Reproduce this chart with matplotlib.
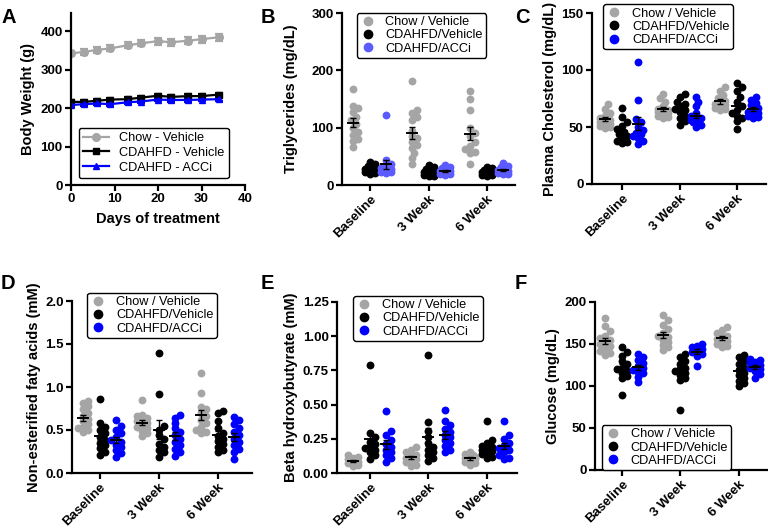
import numpy as np
import matplotlib
matplotlib.use('Agg')
import matplotlib.pyplot as plt
from matplotlib.lines import Line2D

plt.rcParams['font.family'] = ['Liberation Sans', 'DejaVu Sans']

# ---------------- data ----------------
# A: body weight over time (mean, sem)
days = [0, 3, 6, 9, 13, 16, 20, 23, 27, 30, 34]
bw_chow = [342, 346, 351, 355, 363, 368, 374, 371, 375, 379, 384]
bw_chow_sem = [7, 7, 8, 8, 8, 8, 9, 9, 9, 9, 9]
bw_veh = [216, 216, 219, 222, 223, 227, 232, 229, 231, 231, 235]
bw_veh_sem = [5, 5, 5, 5, 5, 5, 5, 5, 5, 5, 5]
bw_acc = [208, 210, 212, 210, 215, 217, 222, 221, 221, 222, 223]
bw_acc_sem = [4, 4, 4, 4, 4, 4, 4, 4, 4, 4, 4]

timepoints = ['Baseline', '3 Week', '6 Week']

# B: triglycerides (mg/dL), one list per timepoint
tg_chow = [[167, 138, 134, 128, 119, 113, 107, 99, 93, 87, 81, 76, 67],
           [182, 130, 126, 118, 113, 95, 85, 82, 75, 70, 64, 55, 47, 37],
           [164, 150, 130, 100, 90, 85, 75, 68, 62, 58, 55, 36]]
tg_veh = [[40, 36, 33, 30, 28, 27, 25, 24, 23, 22, 21, 20],
          [35, 32, 28, 25, 23, 22, 20, 19, 18, 17, 16, 15],
          [32, 29, 27, 25, 23, 22, 21, 20, 19, 18, 17, 16]]
tg_acc = [[122, 44, 36, 32, 30, 28, 26, 25, 24, 23, 22, 21],
          [35, 32, 29, 27, 25, 24, 23, 22, 21, 20, 19, 18],
          [38, 34, 31, 28, 26, 25, 24, 23, 22, 21, 20, 19]]

# C: plasma cholesterol (mg/dL)
ch_chow = [[70, 66, 62, 60, 58, 56, 55, 54, 53, 52, 51, 50, 49],
           [79, 75, 72, 68, 66, 65, 64, 63, 62, 61, 60, 59, 58],
           [85, 82, 78, 75, 73, 71, 70, 69, 68, 67, 66, 65]]
ch_veh = [[67, 59, 54, 51, 48, 46, 44, 42, 40, 38, 37, 36],
          [79, 76, 72, 70, 68, 66, 65, 63, 60, 58, 55, 52],
          [89, 85, 82, 76, 72, 68, 65, 62, 60, 58, 55, 48]]
ch_acc = [[107, 74, 57, 54, 50, 47, 45, 44, 42, 40, 38, 35],
          [76, 72, 68, 62, 60, 58, 57, 56, 55, 54, 52, 50],
          [76, 74, 71, 69, 67, 65, 63, 62, 61, 60, 59, 58]]

# D: non-esterified fatty acids (mM)
nefa_chow = [[0.84, 0.81, 0.78, 0.74, 0.70, 0.66, 0.63, 0.60, 0.57, 0.54, 0.52, 0.50, 0.48],
             [0.85, 0.68, 0.66, 0.64, 0.62, 0.60, 0.58, 0.56, 0.54, 0.52, 0.49, 0.46, 0.43],
             [1.16, 0.93, 0.77, 0.74, 0.70, 0.66, 0.62, 0.58, 0.54, 0.50, 0.48, 0.46]]
nefa_veh = [[0.86, 0.58, 0.54, 0.50, 0.46, 0.42, 0.38, 0.35, 0.32, 0.29, 0.25, 0.21],
            [1.40, 0.92, 0.55, 0.50, 0.44, 0.39, 0.34, 0.30, 0.27, 0.24, 0.19],
            [0.72, 0.70, 0.60, 0.52, 0.46, 0.43, 0.40, 0.37, 0.34, 0.30, 0.27, 0.24]]
nefa_acc = [[0.62, 0.55, 0.50, 0.46, 0.42, 0.38, 0.36, 0.33, 0.30, 0.27, 0.23, 0.19],
            [0.68, 0.64, 0.58, 0.52, 0.48, 0.44, 0.40, 0.36, 0.32, 0.28, 0.24, 0.20],
            [0.65, 0.62, 0.57, 0.52, 0.48, 0.44, 0.40, 0.36, 0.32, 0.28, 0.24, 0.16]]

# E: beta hydroxybutyrate (mM)
bhb_chow = [[0.13, 0.12, 0.11, 0.10, 0.09, 0.09, 0.08, 0.08, 0.07, 0.07, 0.06, 0.05],
            [0.19, 0.17, 0.15, 0.13, 0.12, 0.11, 0.10, 0.09, 0.08, 0.06, 0.05],
            [0.15, 0.14, 0.13, 0.12, 0.12, 0.11, 0.10, 0.09, 0.08, 0.07, 0.06]]
bhb_veh = [[0.79, 0.29, 0.26, 0.23, 0.21, 0.19, 0.18, 0.17, 0.15, 0.13, 0.10],
           [0.86, 0.37, 0.31, 0.26, 0.22, 0.19, 0.17, 0.15, 0.13, 0.11, 0.09],
           [0.38, 0.24, 0.22, 0.20, 0.19, 0.18, 0.17, 0.16, 0.15, 0.14, 0.12, 0.11]]
bhb_acc = [[0.45, 0.31, 0.28, 0.24, 0.21, 0.19, 0.17, 0.15, 0.13, 0.11, 0.08],
           [0.46, 0.38, 0.35, 0.32, 0.30, 0.28, 0.26, 0.24, 0.22, 0.20, 0.17, 0.15],
           [0.38, 0.28, 0.25, 0.22, 0.20, 0.18, 0.17, 0.15, 0.13, 0.11, 0.10]]

# F: glucose (mg/dL)
glu_chow = [[181, 172, 165, 160, 157, 155, 152, 150, 148, 145, 142, 139, 137],
            [185, 178, 173, 168, 163, 160, 158, 155, 152, 149, 146, 143],
            [170, 167, 163, 160, 158, 156, 154, 152, 150, 148, 146]]
glu_veh = [[146, 140, 136, 130, 126, 122, 120, 118, 115, 112, 109, 89],
           [138, 134, 130, 126, 122, 120, 118, 116, 113, 110, 107, 71],
           [137, 134, 130, 126, 122, 119, 116, 113, 110, 106, 103, 100]]
glu_acc = [[138, 135, 131, 127, 124, 121, 119, 117, 115, 111, 105],
           [150, 148, 146, 144, 142, 140, 138, 136, 124],
           [132, 131, 129, 127, 125, 124, 122, 120, 118, 114, 109]]

GRAY = '#a5a5a5'
BLUE = '#0000ff'
LIGHTBLUE = '#5b5bff'
scatter_labels = ['Chow / Vehicle', 'CDAHFD/Vehicle', 'CDAHFD/ACCi']

# ---------------- helpers ----------------
W, H = 768, 532
fig = plt.figure(figsize=(W / 100, H / 100), dpi=100)

TICK_FS = 9.5
LABEL_FS = 10.5
LEG_FS = 9.2


def px_axes(l, t, r, b):
    return fig.add_axes([l / W, 1 - b / H, (r - l) / W, (b - t) / H])


def prism_style(ax):
    for s in ['top', 'right']:
        ax.spines[s].set_visible(False)
    for s in ['left', 'bottom']:
        ax.spines[s].set_linewidth(1.6)
    ax.tick_params(width=1.6, length=4, labelsize=TICK_FS, pad=2)
    for lab in ax.get_xticklabels() + ax.get_yticklabels():
        lab.set_fontweight('bold')


def swarm(ypx, diam=5.0, step=2.5, maxsteps=2):
    # simple beeswarm: x offsets in pixels
    order = np.argsort(ypx)
    cands = [0.0]
    for k in range(1, maxsteps + 1):
        cands += [k * step, -k * step]
    placed = []
    offs = np.zeros(len(ypx))
    for i in order:
        best, bestd = 0.0, -1
        for dx in cands:
            d = min([np.hypot(dx - px, ypx[i] - py) for px, py in placed], default=1e9)
            if d >= diam:
                best = dx
                break
            if d > bestd:
                best, bestd = dx, d
        offs[i] = best
        placed.append((best, ypx[i]))
    return offs


def dot_panel(ax, groups, colors, xlim, ylim, yticks, ylabels, ylabel, pad=3):
    ax.set_xlim(xlim)
    ax.set_ylim(ylim)
    bb = ax.get_position()
    ppu_y = bb.height * H / (ylim[1] - ylim[0])
    ppu_x = bb.width * W / (xlim[1] - xlim[0])
    shifts = [-0.29, 0.0, 0.28]
    for g, (series, col) in enumerate(zip(groups, colors)):
        for t, vals in enumerate(series):
            v = np.array(vals, dtype=float)
            xc = t + shifts[g]
            dx = swarm(v * ppu_y) / ppu_x
            ax.scatter(xc + dx, v, s=32, color=col, lw=0, zorder=2, clip_on=False)
            m = v.mean()
            se = v.std(ddof=1) / np.sqrt(len(v))
            hw = 5 / ppu_x
            ax.plot([xc - hw, xc + hw], [m, m], color='k', lw=1.4, zorder=3)
            ax.errorbar(xc, m, yerr=se, color='k', lw=1.0, capsize=2.0, capthick=1.0, zorder=3)
    ax.set_xticks(range(len(timepoints)))
    ax.set_xticklabels(timepoints, rotation=45, ha='right', rotation_mode='anchor')
    ax.set_yticks(yticks)
    ax.set_yticklabels(ylabels)
    ax.set_ylabel(ylabel, fontsize=LABEL_FS, fontweight='bold', labelpad=pad)
    prism_style(ax)


def dot_legend(ax, colors, **kw):
    handles = [Line2D([], [], marker='o', ls='', color=c, markersize=6) for c in colors]
    leg = ax.legend(handles, scatter_labels, fontsize=LEG_FS, frameon=True, fancybox=True,
                    edgecolor='k', framealpha=1, handletextpad=0.8, handlelength=1.2,
                    labelspacing=0.1, borderpad=0.25, borderaxespad=0, **kw)
    leg.get_frame().set_linewidth(1.0)
    return leg


def panel_letter(x, y, s):
    fig.text(x / W, 1 - y / H, s, fontsize=14.5, fontweight='bold', va='top', ha='left')


# ---------------- A: body weight ----------------
axA = px_axes(71, 13, 245, 185)
axA.errorbar(days, bw_chow, yerr=bw_chow_sem, color=GRAY, marker='o', ms=5.5, lw=1.6,
             capsize=3, capthick=1.6)
axA.errorbar(days, bw_veh, yerr=bw_veh_sem, color='k', marker='s', ms=5, lw=1.6,
             capsize=3, capthick=1.6)
axA.errorbar(days, bw_acc, yerr=bw_acc_sem, color=BLUE, marker='^', ms=5, lw=1.6,
             capsize=3, capthick=1.6)
axA.set_xlim(0, 40)
axA.set_ylim(0, 447)
axA.set_xticks([0, 10, 20, 30, 40])
axA.set_yticks([0, 100, 200, 300, 400])
axA.set_xlabel('Days of treatment', fontsize=LABEL_FS, fontweight='bold', labelpad=5)
axA.set_ylabel('Body Weight (g)', fontsize=LABEL_FS, fontweight='bold', labelpad=4)
prism_style(axA)
handlesA = [Line2D([], [], color=GRAY, marker='o', ms=5.5, lw=1.6),
            Line2D([], [], color='k', marker='s', ms=5, lw=1.6),
            Line2D([], [], color=BLUE, marker='^', ms=5, lw=1.6)]
legA = axA.legend(handlesA, ['Chow - Vehicle', 'CDAHFD - Vehicle', 'CDAHFD - ACCi'],
                  loc='lower left', bbox_to_anchor=(0.045, 0.04), fontsize=LEG_FS,
                  frameon=True, fancybox=True, edgecolor='k', framealpha=1, borderaxespad=0,
                  handlelength=2.0, handletextpad=0.8, labelspacing=0.22, borderpad=0.35)
legA.get_frame().set_linewidth(1.0)

# ---------------- B: triglycerides ----------------
axB = px_axes(342, 13, 515, 185)
dot_panel(axB, [tg_chow, tg_veh, tg_acc], [GRAY, 'k', LIGHTBLUE], (-0.48, 2.48), (0, 300),
          [0, 100, 200, 300], ['0', '100', '200', '300'], 'Triglycerides (mg/dL)', pad=10)
dot_legend(axB, [GRAY, 'k', LIGHTBLUE], loc='upper left', bbox_to_anchor=(0.085, 1.0))

# ---------------- C: cholesterol ----------------
axC = px_axes(592, 13, 766, 184)
dot_panel(axC, [ch_chow, ch_veh, ch_acc], [GRAY, 'k', BLUE], (-0.52, 2.5), (0, 150),
          [0, 50, 100, 150], ['0', '50', '100', '150'], 'Plasma Cholesterol (mg/dL)')
dot_legend(axC, [GRAY, 'k', BLUE], loc='upper left', bbox_to_anchor=(0.065, 1.05))

# ---------------- D: NEFA ----------------
axD = px_axes(72, 301, 252, 473)
dot_panel(axD, [nefa_chow, nefa_veh, nefa_acc], [GRAY, 'k', BLUE], (-0.47, 2.58), (0, 2.0),
          [0, 0.5, 1.0, 1.5, 2.0], ['0.0', '0.5', '1.0', '1.5', '2.0'],
          'Non-esterified faty acids (mM)')
dot_legend(axD, [GRAY, 'k', BLUE], loc='upper left', bbox_to_anchor=(0.085, 1.047))

# ---------------- E: BHB ----------------
axE = px_axes(337, 302, 517, 473)
dot_panel(axE, [bhb_chow, bhb_veh, bhb_acc], [GRAY, 'k', BLUE], (-0.56, 2.51), (0, 1.25),
          [0, 0.25, 0.5, 0.75, 1.0, 1.25], ['0.00', '0.25', '0.50', '0.75', '1.00', '1.25'],
          'Beta hydroxybutyrate (mM)')
dot_legend(axE, [GRAY, 'k', BLUE], loc='upper left', bbox_to_anchor=(0.09, 1.035))

# ---------------- F: glucose ----------------
axF = px_axes(595, 302, 768, 470)
dot_panel(axF, [glu_chow, glu_veh, glu_acc], [GRAY, 'k', BLUE], (-0.46, 2.5), (0, 200),
          [0, 50, 100, 150, 200], ['0', '50', '100', '150', '200'], 'Glucose (mg/dL)')
dot_legend(axF, [GRAY, 'k', BLUE], loc='lower left', bbox_to_anchor=(0.04, 0.0))

panel_letter(2, 8, 'A')
panel_letter(261, 8, 'B')
panel_letter(515, 8, 'C')
panel_letter(1, 274, 'D')
panel_letter(261, 274, 'E')
panel_letter(515, 274, 'F')

fig.savefig('out.png', dpi=100)
